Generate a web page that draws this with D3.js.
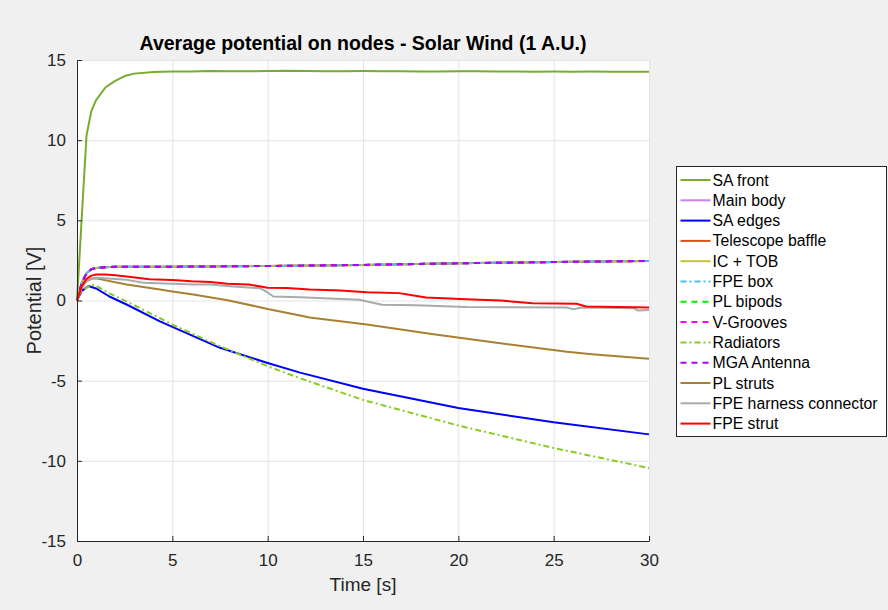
<!DOCTYPE html>
<html>
<head>
<meta charset="utf-8">
<script src="https://cdn.jsdelivr.net/npm/d3@7"></script>
<style>
  body { margin: 0; background: #f0f0f0; }
  svg { font-family: "Liberation Sans", Arial, Helvetica, sans-serif; }
  .grid line { stroke: #e3e3e3; stroke-width: 1; }
  .grid path { display: none; }
  .axis path, .axis line { stroke: #262626; }
  .axis text { fill: #262626; font-size: 17px; }
  .series { fill: none; stroke-width: 2; stroke-linejoin: round; }
</style>
</head>
<body>
<div id="chart"></div>
<script>
// values
var xTicks = [0, 5, 10, 15, 20, 25, 30];
var yTicks = [-15, -10, -5, 0, 5, 10, 15];

var saFrontT = [0, 0.25, 0.5, 0.75, 1, 1.5, 2, 2.5, 3, 4, 5, 6, 7, 8, 9, 10, 11, 12, 13, 14, 15, 16, 17, 18, 19, 20, 21, 22, 23, 24, 25, 26, 27, 28, 29, 30];
var saFrontV = [0, 5.2, 10.3, 11.8, 12.5, 13.3, 13.7, 14.0, 14.15, 14.25, 14.28, 14.28, 14.31, 14.3, 14.3, 14.31, 14.33, 14.32, 14.3, 14.3, 14.31, 14.3, 14.3, 14.29, 14.29, 14.3, 14.3, 14.29, 14.28, 14.27, 14.28, 14.27, 14.28, 14.27, 14.27, 14.27];

// main body, telescope baffle, IC+TOB, FPE box, PL bipods, V-grooves, MGA antenna all overlap
var plateauT = [0, 0.25, 0.5, 0.75, 1, 1.5, 2, 3, 5, 10, 15, 20, 25, 30];
var plateauV = [0, 1.1, 1.7, 1.95, 2.03, 2.08, 2.1, 2.11, 2.11, 2.15, 2.22, 2.32, 2.4, 2.47];

var saEdgesT = [0, 0.25, 0.6, 1, 1.7, 2.6, 4.35, 5, 7.5, 10, 11.7, 15, 20, 25, 30];
var saEdgesV = [0, 0.6, 0.9, 0.75, 0.25, -0.25, -1.3, -1.65, -2.95, -3.9, -4.5, -5.5, -6.7, -7.6, -8.35];

var radiatorsT = [0, 0.25, 0.75, 1, 1.7, 2.6, 4.35, 5, 7.5, 10, 11.7, 15, 20, 25, 30];
var radiatorsV = [0, 0.6, 1.0, 0.92, 0.45, -0.06, -1.1, -1.5, -2.85, -4.1, -4.85, -6.2, -7.8, -9.2, -10.45];

var plStrutsT = [0, 0.25, 0.5, 0.75, 1, 2.6, 4.35, 5, 6.1, 7.9, 9.6, 10, 11.7, 12.2, 15.2, 18.7, 22.2, 25.7, 27, 30];
var plStrutsV = [0, 0.8, 1.2, 1.35, 1.38, 1.0, 0.68, 0.56, 0.38, 0.02, -0.42, -0.53, -0.94, -1.06, -1.5, -2.1, -2.67, -3.2, -3.35, -3.64];

var harnessT = [0, 0.25, 0.5, 0.75, 1, 2.6, 3.5, 6.1, 7, 8.2, 9.6, 10, 10.3, 11.7, 14.8, 16, 17.8, 20.4, 25.7, 26, 26.5, 29.2, 29.4, 30];
var harnessV = [0, 0.8, 1.2, 1.38, 1.42, 1.3, 1.1, 1.0, 1.0, 0.87, 0.77, 0.5, 0.25, 0.2, 0.05, -0.27, -0.3, -0.4, -0.44, -0.54, -0.44, -0.48, -0.62, -0.6];

var fpeStrutT = [0, 0.25, 0.5, 0.75, 1, 1.5, 2, 2.6, 3.8, 5, 6, 7, 7.9, 9, 10, 11, 12.2, 13.8, 15.2, 16.9, 17.5, 18.3, 20.4, 22.2, 23.9, 26.2, 26.7, 30];
var fpeStrutV = [0, 0.9, 1.35, 1.55, 1.62, 1.62, 1.58, 1.5, 1.33, 1.28, 1.2, 1.15, 1.05, 1.0, 0.8, 0.78, 0.68, 0.62, 0.52, 0.46, 0.35, 0.19, 0.08, 0.0, -0.17, -0.2, -0.37, -0.44];

var seriesNames = ["SA front", "Main body", "SA edges", "Telescope baffle", "IC + TOB", "FPE box",
  "PL bipods", "V-Grooves", "Radiators", "MGA Antenna", "PL struts", "FPE harness connector", "FPE strut"];
var seriesColors = ["#77ac30", "#cc80f0", "#0000ff", "#d95319", "#c4c434", "#4dbeee",
  "#00ee00", "#ff00ff", "#88cc22", "#b000ff", "#a88032", "#aaaaaa", "#ff0000"];
var seriesDash = ["", "", "", "", "", "6,3,2,3", "6,5", "6,5", "6,3,2,3", "6,5", "", "", ""];

var seriesData = [
  [saFrontT, saFrontV], [plateauT, plateauV], [saEdgesT, saEdgesV], [plateauT, plateauV],
  [plateauT, plateauV], [plateauT, plateauV], [plateauT, plateauV], [plateauT, plateauV],
  [radiatorsT, radiatorsV], [plateauT, plateauV], [plStrutsT, plStrutsV],
  [harnessT, harnessV], [fpeStrutT, fpeStrutV]
];

var W = 888, H = 610;
var margin = {top: 60, right: 239, bottom: 69, left: 77},
    width = W - margin.left - margin.right,
    height = H - margin.top - margin.bottom;

var svg = d3.select("#chart").append("svg")
    .attr("width", W)
    .attr("height", H);

svg.append("rect").attr("width", W).attr("height", H).attr("fill", "#f0f0f0");

var g = svg.append("g")
    .attr("transform", `translate(${margin.left},${margin.top})`);

g.append("rect").attr("width", width).attr("height", height).attr("fill", "#fff");

var x = d3.scaleLinear().domain([0, 30]).range([0, width]);
var y = d3.scaleLinear().domain([-15, 15]).range([height, 0]);

// grid
g.append("g").attr("class", "grid")
    .attr("transform", `translate(0,${height})`)
    .call(d3.axisBottom(x).tickValues(xTicks).tickSize(-height).tickFormat(""));
g.append("g").attr("class", "grid")
    .call(d3.axisLeft(y).tickValues(yTicks).tickSize(-width).tickFormat(""));

// lines
var line = d3.line()
    .x(d => x(d[0]))
    .y(d => y(d[1]));

seriesData.forEach(function(s, i) {
  var pts = s[0].map((t, j) => [t, s[1][j]]);
  g.append("path")
    .attr("class", "series")
    .attr("d", line(pts))
    .attr("stroke", seriesColors[i])
    .attr("stroke-dasharray", seriesDash[i] || null);
});

// axes, ticks pointing inward, plain hyphen minus like matlab
var fmt = d => String(d);
g.append("g").attr("class", "axis")
    .attr("transform", `translate(0,${height})`)
    .call(d3.axisBottom(x).tickValues(xTicks).tickFormat(fmt).tickSizeInner(-5).tickSizeOuter(0).tickPadding(13));
g.append("g").attr("class", "axis")
    .call(d3.axisLeft(y).tickValues(yTicks).tickFormat(fmt).tickSizeInner(-5).tickSizeOuter(0).tickPadding(11));

// title and labels
svg.append("text")
    .attr("x", margin.left + width / 2)
    .attr("y", 50)
    .attr("text-anchor", "middle")
    .attr("font-weight", "bold")
    .attr("font-size", 19.5)
    .attr("fill", "#000")
    .text("Average potential on nodes - Solar Wind (1 A.U.)");

svg.append("text")
    .attr("x", margin.left + width / 2)
    .attr("y", 591)
    .attr("text-anchor", "middle")
    .attr("font-size", 19)
    .attr("fill", "#262626")
    .text("Time [s]");

svg.append("text")
    .attr("transform", `translate(41,${margin.top + height / 2}) rotate(-90)`)
    .attr("text-anchor", "middle")
    .attr("font-size", 20)
    .attr("fill", "#262626")
    .text("Potential [V]");

// legend
var legend = svg.append("g").attr("transform", "translate(676.5,166.5)");
legend.append("rect")
    .attr("width", 210)
    .attr("height", 270)
    .attr("fill", "#fff")
    .attr("stroke", "#262626");

seriesNames.forEach(function(name, i) {
  var ly = 13.5 + i * 20.3;
  legend.append("line")
    .attr("x1", 4).attr("x2", 34)
    .attr("y1", ly).attr("y2", ly)
    .attr("stroke", seriesColors[i])
    .attr("stroke-width", 2)
    .attr("stroke-dasharray", seriesDash[i] || null);
  legend.append("text")
    .attr("x", 36)
    .attr("y", ly)
    .attr("dy", "0.35em")
    .attr("font-size", 15.8)
    .attr("fill", "#000")
    .text(name);
});
</script>
</body>
</html>
